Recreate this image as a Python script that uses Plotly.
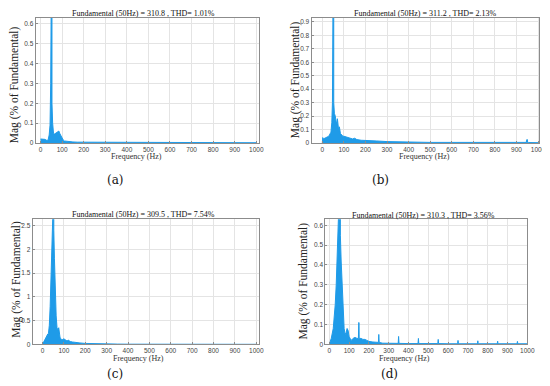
import plotly.graph_objects as go

# ---------------- data ----------------
freq_a = [0, 5, 10, 20, 30, 35, 40, 44, 47, 49, 50, 51, 53, 56, 60, 65, 70, 75, 80, 85, 88, 92, 96, 100, 105,
          110, 120, 130, 150, 170, 200, 250, 300, 350, 400, 500, 600, 700, 800, 900, 1000]
mag_a = [0.02, 0.02, 0.02, 0.018, 0.012, 0.015, 0.04, 0.09, 0.3, 0.65, 100, 0.6, 0.2, 0.1, 0.05, 0.045, 0.05, 0.055, 0.06, 0.06, 0.05, 0.04, 0.03, 0.02, 0.015,
         0.01, 0.008, 0.006, 0.005, 0.004, 0.004, 0.003, 0.003, 0.002, 0.002, 0.002, 0.002, 0.001, 0.001, 0.001, 0.001]

freq_b = [0, 2, 5, 10, 20, 30, 40, 44, 47, 49, 50, 51, 53, 56, 60, 64, 67, 70, 72, 76, 79, 81, 84, 90, 95, 100, 110,
          120, 140, 150, 160, 180, 200, 250, 300, 350, 400, 500, 600, 700, 800, 900, 945, 948, 950, 952, 955, 1000]
mag_b = [0.0, 0.04, 0.03, 0.035, 0.04, 0.05, 0.08, 0.15, 0.3, 0.9, 100, 0.9, 0.3, 0.22, 0.2, 0.16, 0.15, 0.18, 0.11, 0.09, 0.12, 0.07, 0.07, 0.06, 0.05, 0.05, 0.045,
         0.04, 0.03, 0.035, 0.025, 0.02, 0.02, 0.015, 0.01, 0.008, 0.006, 0.004, 0.004, 0.003, 0.003, 0.003, 0.004, 0.025, 0.025, 0.004, 0.003, 0.002]

freq_c = [0, 5, 10, 15, 20, 25, 28, 32, 36, 40, 44, 47, 49, 50, 51, 53, 56, 60, 64, 68, 72, 76, 78, 82, 86, 90, 95, 100, 105,
          110, 115, 120, 125, 130, 140, 150, 175, 200, 250, 300, 350, 400, 500, 600, 700, 800, 900, 1000]
mag_c = [0.0, 0.05, 0.1, 0.15, 0.2, 0.22, 0.23, 0.4, 0.8, 1.3, 2.0, 2.5, 2.8, 100, 2.8, 2.4, 1.8, 1.1, 0.6, 0.35, 0.3, 0.35, 0.2, 0.15, 0.12, 0.1, 0.1, 0.12, 0.1,
         0.08, 0.07, 0.09, 0.07, 0.06, 0.05, 0.04, 0.03, 0.02, 0.012, 0.008, 0.006, 0.004, 0.003, 0.002, 0.002, 0.001, 0.001, 0.001]

freq_d = [0, 10, 20, 27, 30, 35, 40, 44, 47, 50, 53, 56, 60, 65, 70, 75, 80, 85, 90, 95, 100, 105, 110, 120, 130, 140,
          147, 149, 150, 151, 153, 160, 170, 180, 190, 200, 220, 240, 248, 250, 252, 270, 300, 348, 350, 352, 400,
          448, 450, 452, 500, 548, 550, 552, 600, 648, 650, 652, 700, 748, 750, 752, 800, 848, 850, 852, 900, 948, 950, 952, 1000]
mag_d = [0.0, 0.03, 0.08, 0.15, 0.2, 0.3, 0.45, 0.58, 0.66, 100, 0.64, 0.55, 0.42, 0.3, 0.18, 0.08, 0.05, 0.06, 0.08, 0.07, 0.04, 0.03, 0.02, 0.03, 0.035, 0.03,
         0.03, 0.11, 0.11, 0.03, 0.03, 0.03, 0.025, 0.025, 0.02, 0.015, 0.012, 0.01, 0.01, 0.05, 0.01, 0.006, 0.005, 0.005, 0.04, 0.005, 0.004,
         0.004, 0.03, 0.004, 0.004, 0.004, 0.025, 0.004, 0.003, 0.003, 0.02, 0.003, 0.003, 0.003, 0.018, 0.003, 0.003, 0.003, 0.016, 0.003, 0.003, 0.003, 0.015, 0.003, 0.003]

titles = ["Fundamental (50Hz) = 310.8 , THD= 1.01%",
          "Fundamental (50Hz) = 311.2 , THD= 2.13%",
          "Fundamental (50Hz) = 309.5 , THD= 7.54%",
          "Fundamental (50Hz) = 310.3 , THD= 3.56%"]
captions = ["(a)", "(b)", "(c)", "(d)"]
x_ticks = [0, 100, 200, 300, 400, 500, 600, 700, 800, 900, 1000]

# ---------------- layout geometry ----------------
W, H = 550, 386
panels = [
    # (x0px, x1px, y0px, y1px, xrange, yrange, ydtick)
    (28, 255, 10, 136, [-23, 1014], [0, 0.63], 0.1),
    (308, 539, 10, 136, [-50, 1005], [0, 0.93], 0.1),
    (25, 255, 213, 339, [-46, 1014], [0, 2.63], 0.5),
    (322, 527, 213, 339, [-20, 1000], [0, 0.63], 0.1),
]
data = [(freq_a, mag_a), (freq_b, mag_b), (freq_c, mag_c), (freq_d, mag_d)]

title_pos = [(138, 6), (423, 6), (138, 208), (422, 209)]
xlab_pos = [(130, 150), (423, 150), (132, 353), (402, 353)]
ylab_pos = [(7, 77), (292, 72), (9, 273), (300, 275)]
cap_pos = [(109, 173), (378, 173), (109, 369), (387, 369)]

BLUE = "#1f9be8"
fig = go.Figure()
layout = dict(width=W, height=H, margin=dict(l=0, r=0, t=0, b=0),
              paper_bgcolor="white", plot_bgcolor="white", showlegend=False)
annotations = []

for i, ((x0, x1, y0, y1, xr, yr, ydt), (f, m)) in enumerate(zip(panels, data)):
    n = "" if i == 0 else str(i + 1)
    fig.add_trace(go.Scatter(x=f, y=m, mode="lines", fill="tozeroy",
                             line=dict(color=BLUE, width=1), fillcolor=BLUE,
                             xaxis="x" + n, yaxis="y" + n, cliponaxis=True))
    layout["xaxis" + n] = dict(domain=[x0 / W, x1 / W], range=xr, anchor="y" + n,
                               tickvals=x_ticks, showgrid=True, gridcolor="#e4e4e4",
                               gridwidth=1, showline=True, linecolor="#8c8c8c", linewidth=1, mirror=True,
                               ticks="inside", ticklen=2, tickcolor="#8c8c8c",
                               tickfont=dict(family="Liberation Sans", size=6.5, color="#444"),
                               zeroline=False)
    layout["yaxis" + n] = dict(domain=[1 - y1 / H, 1 - y0 / H], range=yr, anchor="x" + n,
                               dtick=ydt, tick0=0, showgrid=True, gridcolor="#e4e4e4",
                               gridwidth=1, showline=True, linecolor="#8c8c8c", linewidth=1, mirror=True,
                               ticks="inside", ticklen=2, tickcolor="#8c8c8c",
                               tickfont=dict(family="Liberation Sans", size=6.5, color="#444"),
                               zeroline=False)
    tx, ty = title_pos[i]
    annotations.append(dict(text=titles[i], x=tx / W, y=1 - ty / H, xref="paper", yref="paper",
                            showarrow=False, xanchor="center", yanchor="middle",
                            font=dict(family="Liberation Serif", size=8, color="#111")))
    lx, ly = xlab_pos[i]
    annotations.append(dict(text="Frequency (Hz)", x=lx / W, y=1 - ly / H, xref="paper", yref="paper",
                            showarrow=False, xanchor="center", yanchor="middle",
                            font=dict(family="Liberation Serif", size=8, color="#333")))
    yx, yy = ylab_pos[i]
    annotations.append(dict(text="Mag (% of Fundamental)", x=yx / W, y=1 - yy / H, xref="paper", yref="paper",
                            showarrow=False, xanchor="center", yanchor="middle", textangle=-90,
                            font=dict(family="Liberation Serif", size=11.5, color="#222")))
    cx, cy = cap_pos[i]
    annotations.append(dict(text=captions[i], x=cx / W, y=1 - cy / H, xref="paper", yref="paper",
                            showarrow=False, xanchor="center", yanchor="middle",
                            font=dict(family="DejaVu Serif", size=12, color="#111")))

layout["annotations"] = annotations
fig.update_layout(**layout)
fig.write_html("out.html")
